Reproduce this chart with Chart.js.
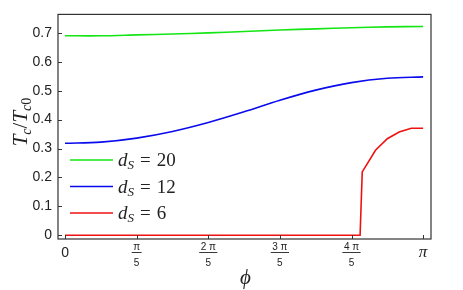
<!DOCTYPE html>
<html>
<head>
<meta charset="utf-8">
<script src="https://cdn.jsdelivr.net/npm/chart.js@4"></script>
<style>
  html, body { margin: 0; padding: 0; background: #fff; }
  #wrap { width: 463px; height: 290px; }
</style>
</head>
<body>
<div id="wrap"><canvas id="tcChart"></canvas></div>
<script>
// phi in units of pi
var phi = [0, 0.1, 0.2, 0.3, 0.4, 0.5, 0.6, 0.7, 0.8, 0.9, 1.0];
var ds20 = [0.690, 0.690, 0.693, 0.696, 0.700, 0.705, 0.710, 0.714, 0.718, 0.721, 0.722];
var ds12 = [0.318, 0.322, 0.336, 0.359, 0.390, 0.427, 0.467, 0.502, 0.528, 0.543, 0.548];
var phiRed = [0, 0.824, 0.83, 0.867, 0.9, 0.933, 0.967, 1.0];
var ds6 = [0, 0, 0.219, 0.294, 0.334, 0.357, 0.370, 0.370];

var yTicks = [0, 0.1, 0.2, 0.3, 0.4, 0.5, 0.6, 0.7];
var xTicks = [0, 0.2, 0.4, 0.6, 0.8, 1.0];
var xTickLabels = [['0'], ['π', '5'], ['2 π', '5'], ['3 π', '5'], ['4 π', '5'], ['π']];
var seriesNames = ['20', '12', '6'];
var seriesColors = ['#14e614', '#0a0aee', '#ee1111'];

function pts(xs, ys) {
    return xs.map(function (x, i) { return { x: x, y: ys[i] }; });
}

var serif = '"Liberation Serif", "DejaVu Serif", serif';
var sans = '"Liberation Sans", Arial, sans-serif';

var decor = {
    id: 'decor',
    afterDraw: function (chart) {
        var ctx = chart.ctx;
        var a = chart.chartArea;
        var xs = chart.scales.x, ys = chart.scales.y;
        ctx.save();

        // frame
        ctx.strokeStyle = '#333';
        ctx.lineWidth = 1.2;
        ctx.strokeRect(a.left, a.top, a.right - a.left, a.bottom - a.top);

        // inward ticks
        ctx.lineWidth = 1;
        ctx.beginPath();
        yTicks.forEach(function (v) {
            var y = Math.round(ys.getPixelForValue(v)) + 0.5;
            ctx.moveTo(a.left, y); ctx.lineTo(a.left + 4, y);
        });
        xTicks.forEach(function (v) {
            var x = Math.round(xs.getPixelForValue(v)) + 0.5;
            ctx.moveTo(x, a.bottom); ctx.lineTo(x, a.bottom - 4);
        });
        ctx.stroke();

        // x tick labels (fractions)
        ctx.fillStyle = '#222';
        ctx.textAlign = 'center';
        ctx.textBaseline = 'middle';
        xTicks.forEach(function (v, i) {
            var x = xs.getPixelForValue(v);
            var lab = xTickLabels[i];
            if (lab.length === 1) {
                if (lab[0] === 'π') {
                    ctx.font = 'italic 17px ' + serif;
                } else {
                    ctx.font = '14px ' + sans;
                }
                ctx.fillText(lab[0], x, a.bottom + 14);
            } else {
                ctx.font = '10px ' + sans;
                ctx.fillText(lab[0], x, a.bottom + 8);
                var w = ctx.measureText(lab[0]).width + 3;
                ctx.fillRect(x - w / 2, a.bottom + 13, w, 0.9);
                ctx.fillText(lab[1], x, a.bottom + 24);
            }
        });

        // x title
        ctx.font = 'italic 21px ' + serif;
        ctx.fillText('ϕ', (a.left + a.right) / 2 + 1, 278);

        // y title T_c / T_c0
        ctx.save();
        ctx.translate(20, 122);
        ctx.rotate(-Math.PI / 2);
        ctx.textAlign = 'left';
        ctx.textBaseline = 'alphabetic';
        var parts = [
            ['T', 'italic 21px ' + serif, 0],
            ['c', 'italic 14px ' + serif, 4],
            ['/', '21px ' + serif, 0],
            ['T', 'italic 21px ' + serif, 0],
            ['c', 'italic 14px ' + serif, 4],
            ['0', '14px ' + serif, 4]
        ];
        var total = 0;
        parts.forEach(function (p) { ctx.font = p[1]; total += ctx.measureText(p[0]).width; });
        var cx = -total / 2;
        parts.forEach(function (p) {
            ctx.font = p[1];
            ctx.fillText(p[0], cx, 7 + p[2]);
            cx += ctx.measureText(p[0]).width;
        });
        ctx.restore();

        // legend
        seriesNames.forEach(function (n, i) {
            var y = 160 + i * 26.5;
            ctx.strokeStyle = seriesColors[i];
            ctx.lineWidth = 1.6;
            ctx.beginPath();
            ctx.moveTo(70, y); ctx.lineTo(113, y);
            ctx.stroke();
            ctx.fillStyle = '#222';
            ctx.textAlign = 'left';
            ctx.textBaseline = 'alphabetic';
            var bx = 118, by = y + 6;
            ctx.font = 'italic 19px ' + serif;
            ctx.fillText('d', bx, by);
            bx += ctx.measureText('d').width;
            ctx.font = 'italic 13px ' + serif;
            ctx.fillText('S', bx, by + 3);
            bx += ctx.measureText('S').width + 6;
            ctx.font = '19px ' + serif;
            ctx.fillText('=', bx, by);
            bx += ctx.measureText('=').width + 6;
            ctx.fillText(n, bx, by);
        });

        ctx.restore();
    }
};

var ctx = document.getElementById('tcChart').getContext('2d');
var myChart = new Chart(ctx, {
    type: 'line',
    data: {
        datasets: [{
            label: 'dS = 20',
            data: pts(phi, ds20),
            borderColor: seriesColors[0],
            borderWidth: 1.6,
            pointRadius: 0,
            tension: 0.3
        }, {
            label: 'dS = 12',
            data: pts(phi, ds12),
            borderColor: seriesColors[1],
            borderWidth: 1.6,
            pointRadius: 0,
            cubicInterpolationMode: 'monotone'
        }, {
            label: 'dS = 6',
            data: pts(phiRed, ds6),
            borderColor: seriesColors[2],
            borderWidth: 1.6,
            pointRadius: 0,
            tension: 0
        }]
    },
    options: {
        responsive: true,
        maintainAspectRatio: false,
        animation: false,
        layout: { padding: { top: 8, right: 32, bottom: 51, left: 0 } },
        plugins: { legend: { display: false }, tooltip: { enabled: false } },
        scales: {
            x: {
                type: 'linear',
                display: false,
                min: -0.0196,
                max: 1.022
            },
            y: {
                min: -0.013,
                max: 0.764,
                afterFit: function (s) { s.width = 58; },
                afterBuildTicks: function (s) {
                    s.ticks = yTicks.map(function (v) { return { value: v }; });
                },
                grid: { drawOnChartArea: false, drawTicks: false },
                border: { display: false },
                ticks: {
                    padding: 6,
                    color: '#222',
                    font: { family: 'Liberation Sans', size: 14 },
                    callback: function (v) { return v === 0 ? '0' : v.toFixed(1); }
                }
            }
        }
    },
    plugins: [decor]
});
</script>
</body>
</html>
